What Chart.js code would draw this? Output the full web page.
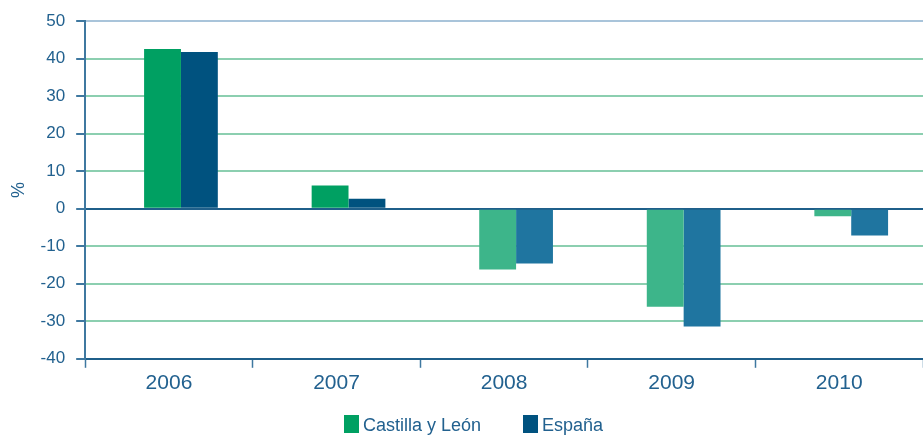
<!DOCTYPE html>
<html>
<head>
<meta charset="utf-8">
<script src="https://cdn.jsdelivr.net/npm/chart.js@4/dist/chart.umd.min.js"></script>
<style>
  html, body { margin: 0; padding: 0; background: #fff; }
  #wrap { position: relative; width: 923px; height: 435px; }
  #legend { position: absolute; left: 344px; top: 415px; font: 18px 'Liberation Sans', sans-serif; color: #22618f; white-space: nowrap; }
  #legend span.item { display: inline-block; vertical-align: top; }
  #legend span.box { display: inline-block; width: 15px; height: 18px; vertical-align: top; margin-right: 4px; }
</style>
</head>
<body>
<div id="wrap">
  <canvas id="growthChart" width="923" height="435"></canvas>
  <div id="legend"></div>
</div>
<script>
// Data
const years = ['2006', '2007', '2008', '2009', '2010'];
const castillaLeon = [42.6, 6.2, -16.2, -26.1, -2.0];
const espana = [41.8, 2.7, -14.6, -31.4, -7.1];
const yTicks = [50, 40, 30, 20, 10, 0, -10, -20, -30, -40];

const textColor = '#22618f';
const axisColor = '#3f78a0';

const series = [
  { name: 'Castilla y León', values: castillaLeon, pos: '#00a062', neg: '#3db58a' },
  { name: 'España', values: espana, pos: '#00527f', neg: '#1f75a0' }
];

// negative bars are drawn in a lighter shade
function shade(values, pos, neg) {
  return values.map(v => v < 0 ? neg : pos);
}

// bars sit a little right of the category centre in the original
const shiftBars = {
  id: 'shiftBars',
  beforeDatasetsDraw(chart) { chart.ctx.save(); chart.ctx.translate(12, 0); },
  afterDatasetsDraw(chart) { chart.ctx.restore(); }
};

document.addEventListener('DOMContentLoaded', function() {
  Chart.defaults.font.family = "'Liberation Sans', sans-serif";
  Chart.defaults.color = textColor;

  // legend as html
  const legend = document.getElementById('legend');
  series.forEach(function(s, i) {
    const item = document.createElement('span');
    item.className = 'item';
    item.style.marginRight = i === 0 ? '42px' : '0';
    item.innerHTML = '<span class="box" style="background:' + s.pos + '"></span>' + s.name;
    legend.appendChild(item);
  });

  const ctx = document.getElementById('growthChart').getContext('2d');
  new Chart(ctx, {
    type: 'bar',
    data: {
      labels: years,
      datasets: series.map(s => ({
        label: s.name,
        data: s.values,
        backgroundColor: shade(s.values, s.pos, s.neg),
        borderWidth: 0
      }))
    },
    plugins: [shiftBars],
    options: {
      responsive: false,
      animation: false,
      categoryPercentage: 0.44,
      barPercentage: 1.0,
      layout: { padding: { top: 18, right: 0, left: 4, bottom: 36 } },
      plugins: {
        tooltip: { enabled: false },
        legend: { display: false }
      },
      scales: {
        x: {
          offset: true,
          grid: {
            offset: true,
            drawOnChartArea: false,
            tickLength: 9,
            tickColor: axisColor,
            tickWidth: 1.5
          },
          border: { color: '#1f5f8a', width: 2 },
          ticks: { color: textColor, font: { size: 21 }, padding: 3 }
        },
        y: {
          min: -40,
          max: 50,
          afterBuildTicks: function(axis) {
            axis.ticks = yTicks.map(v => ({ value: v }));
          },
          grid: {
            color: function(c) {
              const v = c.tick && c.tick.value;
              if (v === 0 || v === -40) return '#1f5f8a';
              if (v === 50) return '#a9c4da';
              return '#8ccfb0';
            },
            lineWidth: 2,
            tickLength: 9,
            tickColor: axisColor
          },
          border: { color: axisColor, width: 2 },
          title: {
            display: true,
            text: '%',
            color: textColor,
            font: { size: 18 },
            padding: { top: 4, bottom: 0 }
          },
          ticks: { color: textColor, font: { size: 17 }, padding: 11 }
        }
      }
    }
  });
});
</script>
</body>
</html>
